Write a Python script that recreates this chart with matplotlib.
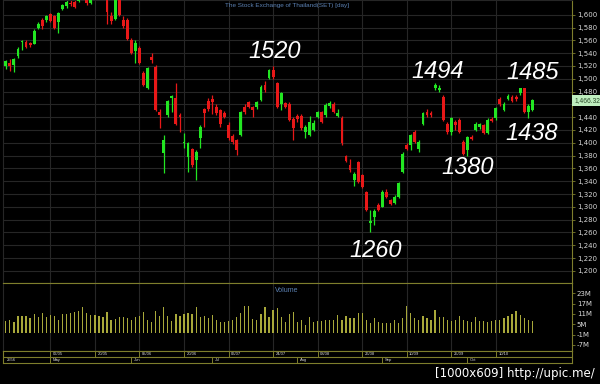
import matplotlib
matplotlib.use("Agg")
import matplotlib.pyplot as plt

# daily candles, SET index (values above the panel are clipped)
opens = [1520, 1525, 1521, 1535, 1557, 1558, 1556, 1555, 1580, 1592,
         1592, 1601, 1598, 1588, 1609, 1613, 1619, 1620, 1622, 1630,
         1628, 1619, 1630, 1645, 1640, 1630, 1598, 1594, 1628, 1592,
         1592, 1560, 1544, 1548, 1509, 1486, 1534, 1519, 1448, 1384,
         1443, 1470, 1470, 1443, 1400, 1378, 1390, 1373, 1407, 1452,
         1466, 1468, 1456, 1451, 1446, 1428, 1410, 1404, 1412, 1456,
         1464, 1456, 1456, 1467, 1490, 1501, 1513, 1493, 1461, 1462,
         1460, 1437, 1442, 1442, 1417, 1412, 1420, 1441, 1448, 1443,
         1457, 1460, 1442, 1438, 1379, 1365, 1342, 1370, 1350, 1323,
         1275, 1284, 1303, 1300, 1323, 1310, 1306, 1316, 1355, 1397,
         1396, 1417, 1390, 1430, 1448, 1446, 1485, 1483, 1472, 1430,
         1417, 1432, 1436, 1402, 1389, 1409, 1420, 1425, 1428, 1415,
         1437, 1438, 1469, 1451, 1469, 1472, 1472, 1477, 1485, 1448,
         1451]
closes = [1528, 1520, 1531, 1547, 1559, 1549, 1552, 1575, 1585, 1583,
          1598, 1590, 1579, 1602, 1615, 1620, 1616, 1612, 1632, 1636,
          1618, 1628, 1643, 1640, 1628, 1605, 1590, 1625, 1600, 1583,
          1562, 1540, 1556, 1525, 1490, 1517, 1529, 1451, 1444, 1404,
          1465, 1473, 1429, 1440, 1402, 1400, 1365, 1386, 1425, 1447,
          1452, 1464, 1446, 1430, 1441, 1407, 1402, 1389, 1448, 1448,
          1456, 1451, 1464, 1487, 1482, 1514, 1503, 1456, 1477, 1456,
          1436, 1423, 1437, 1423, 1425, 1433, 1431, 1448, 1433, 1459,
          1462, 1448, 1447, 1399, 1372, 1357, 1352, 1339, 1331, 1295,
          1278, 1293, 1295, 1323, 1316, 1305, 1316, 1337, 1383, 1390,
          1412, 1402, 1402, 1446, 1443, 1443, 1490, 1486, 1436, 1417,
          1438, 1428, 1417, 1383, 1409, 1406, 1430, 1429, 1415, 1436,
          1434, 1454, 1461, 1461, 1473, 1466, 1469, 1485, 1448, 1458,
          1466.32]
highs = [1530, 1531, 1532, 1549, 1561, 1561, 1558, 1577, 1589, 1595,
         1600, 1603, 1600, 1604, 1617, 1630, 1625, 1628, 1635, 1640,
         1634, 1632, 1648, 1650, 1643, 1632, 1604, 1628, 1630, 1598,
         1595, 1563, 1560, 1551, 1512, 1519, 1540, 1522, 1452, 1412,
         1467, 1474, 1493, 1446, 1415, 1402, 1392, 1389, 1428, 1454,
         1470, 1474, 1460, 1453, 1450, 1432, 1413, 1406, 1450, 1460,
         1466, 1458, 1466, 1490, 1496, 1516, 1520, 1495, 1479, 1464,
         1463, 1440, 1445, 1445, 1428, 1442, 1435, 1450, 1450, 1462,
         1465, 1463, 1452, 1442, 1381, 1374, 1355, 1372, 1352, 1325,
         1295, 1296, 1306, 1326, 1328, 1312, 1318, 1339, 1385, 1400,
         1414, 1420, 1404, 1448, 1452, 1449, 1494, 1491, 1475, 1433,
         1440, 1436, 1438, 1404, 1411, 1412, 1433, 1431, 1430, 1438,
         1440, 1456, 1472, 1463, 1476, 1474, 1474, 1486, 1486, 1460,
         1468]
lows = [1516, 1512, 1511, 1533, 1545, 1548, 1550, 1554, 1577, 1578,
        1588, 1589, 1577, 1571, 1607, 1611, 1614, 1610, 1620, 1627,
        1615, 1617, 1628, 1635, 1625, 1586, 1586, 1592, 1598, 1580,
        1560, 1538, 1525, 1523, 1488, 1484, 1524, 1449, 1423, 1353,
        1440, 1448, 1427, 1417, 1392, 1355, 1362, 1342, 1392, 1425,
        1450, 1445, 1444, 1425, 1438, 1405, 1398, 1381, 1410, 1445,
        1454, 1440, 1452, 1465, 1480, 1499, 1500, 1454, 1451, 1454,
        1434, 1404, 1432, 1420, 1408, 1410, 1418, 1439, 1431, 1440,
        1455, 1446, 1440, 1397, 1370, 1354, 1333, 1337, 1329, 1293,
        1260, 1272, 1294, 1299, 1314, 1303, 1304, 1314, 1353, 1388,
        1389, 1400, 1386, 1428, 1440, 1440, 1483, 1480, 1434, 1413,
        1412, 1420, 1415, 1381, 1380, 1404, 1418, 1422, 1413, 1413,
        1432, 1436, 1458, 1449, 1467, 1464, 1466, 1474, 1446, 1438,
        1449]
# volume in millions
volumes = [7.0, 7.7, 6.5, 9.8, 9.8, 9.8, 8.4, 10.9, 9.1, 11.6,
           9.0, 10.3, 9.8, 7.4, 10.9, 11.0, 11.4, 12.3, 13.0, 14.9,
           11.4, 10.5, 10.4, 9.8, 9.4, 12.0, 7.7, 8.3, 9.4, 9.0,
           8.4, 7.8, 9.0, 9.8, 12.3, 7.8, 6.5, 13.0, 9.8, 15.3,
           9.8, 7.0, 11.0, 9.8, 10.9, 11.4, 10.9, 15.3, 9.0, 9.8,
           8.4, 10.4, 7.4, 6.5, 6.5, 7.0, 7.8, 9.0, 11.4, 15.7,
           15.7, 8.3, 7.7, 11.0, 15.3, 9.0, 13.3, 14.3, 9.0, 6.5,
           11.0, 11.9, 6.5, 7.5, 4.8, 9.4, 6.5, 7.0, 7.0, 7.7,
           7.4, 7.7, 10.3, 7.4, 9.8, 8.4, 8.4, 11.4, 11.4, 7.7,
           5.9, 8.4, 6.5, 5.9, 5.9, 5.9, 7.4, 5.9, 8.4, 15.7,
           11.8, 8.4, 7.5, 9.8, 8.4, 7.8, 13.6, 9.4, 9.0, 7.4,
           7.0, 7.4, 9.8, 7.4, 7.0, 6.5, 9.4, 7.0, 7.0, 6.5,
           7.0, 7.8, 7.8, 8.4, 9.8, 10.9, 13.0, 10.4, 8.4, 7.4,
           7.0]

date_labels = ["02/05", "20/05", "05/06", "20/06", "06/07", "24/07",
               "08/08", "26/08", "10/09", "25/09", "10/10"]
date_idx = [11, 22, 33, 44, 55, 66, 77, 88, 99, 110, 121]
month_labels = ["May", "Jun", "Jul", "Aug", "Sep", "Oct"]
month_idx = [11, 31, 51, 72, 93, 114]
year_label = "2556"

price_ticks = list(range(1200, 1601, 20))
vol_ticks = [-7, -1, 5, 11, 17, 23]

# hand-written marks on the chart
notes = ["1520", "1494", "1485", "1438", "1380", "1260"]
note_x = [66.5, 106.6, 130.2, 129.9, 114.0, 91.2]
note_y = [1542, 1511, 1509, 1415, 1362, 1231]

UP = "#22e622"
DOWN = "#e81818"
OLIVE = "#7e7e2c"
GRID = "#262626"
TXT = "#d8d8d8"
BLUE = "#5c82b4"

n = len(closes)
idx = list(range(n))
xlo, xhi = -0.69, 139.8
last = closes[-1]

fig = plt.figure(figsize=(6, 3.84), dpi=100, facecolor="black")
ax = fig.add_axes([0.005, 0.263, 0.9483, 0.737], facecolor="black")
axv = fig.add_axes([0.005, 0.0859, 0.9483, 0.1771], facecolor="black")
axd = fig.add_axes([0.005, 0.0547, 0.9483, 0.03125], facecolor="black")

# price panel
for y in price_ticks:
    ax.axhline(y, color=GRID, lw=0.8, zorder=0)
for i in date_idx:
    ax.axvline(i, color=GRID, lw=0.8, zorder=0)

cols = [UP if c >= o else DOWN for o, c in zip(opens, closes)]
ax.vlines(idx, lows, highs, colors=cols, lw=0.9, zorder=2)
bottoms = [min(o, c) for o, c in zip(opens, closes)]
heights = [max(abs(c - o), 1.2) for o, c in zip(opens, closes)]
ax.bar(idx, heights, bottom=bottoms, width=0.7, color=cols, lw=0, zorder=3)

ax.set_xlim(xlo, xhi)
ax.set_ylim(1181, 1623)
ax.yaxis.tick_right()
ax.set_yticks(price_ticks)
# the last-price box sits over the tick label next to it
ax.set_yticklabels(["" if abs(v - last) < 10 else f"{v:,.0f}" for v in price_ticks])
ax.tick_params(axis="y", colors=OLIVE, labelcolor=TXT, labelsize=5, length=2, width=0.6, pad=1.5)
ax.set_xticks([])
for s in ["top", "left"]:
    ax.spines[s].set_color(GRID)
ax.spines["right"].set_color(OLIVE)
ax.spines["bottom"].set_color(OLIVE)

ax.text(0.499, 0.979, "The Stock Exchange of Thailand(SET) [day]", transform=ax.transAxes,
        ha="center", va="center", color=BLUE, fontsize=4.6, family="Liberation Sans")

for t, x, y in zip(notes, note_x, note_y):
    ax.text(x, y, t, ha="center", va="center", color="white", fontsize=17,
            style="italic", family="Liberation Sans")

ax.annotate(f"{last:,.2f}", xy=(1.004, last), xycoords=("axes fraction", "data"),
            ha="left", va="center", fontsize=4.8, color="#2a4a2a", family="Liberation Sans",
            bbox=dict(boxstyle="square,pad=0.3", fc="#bfeebf", ec="none"), annotation_clip=False)

# volume panel
for i in date_idx:
    axv.axvline(i, color=GRID, lw=0.8, zorder=0)
axv.bar(idx, volumes, width=0.3, color="#a8a83a", lw=0, zorder=2)
axv.set_xlim(xlo, xhi)
axv.set_ylim(-10.5, 29)
axv.yaxis.tick_right()
axv.set_yticks(vol_ticks)
axv.set_yticklabels([f"{v}M" for v in vol_ticks])
axv.tick_params(axis="y", colors=OLIVE, labelcolor=TXT, labelsize=5, length=2, width=0.6, pad=1.5)
axv.set_xticks([])
axv.spines["left"].set_color(GRID)
for s in ["top", "right", "bottom"]:
    axv.spines[s].set_color(OLIVE)
axv.text(0.499, 0.94, "Volume", transform=axv.transAxes, ha="center", va="top",
         color=BLUE, fontsize=5, family="Liberation Sans")

# date strip
axd.set_xlim(xlo, xhi)
axd.set_ylim(0, 2)
axd.axhline(1, color=OLIVE, lw=0.8)
for s in axd.spines.values():
    s.set_color(OLIVE)
axd.set_xticks([])
axd.set_yticks([])
for i, lab in zip(date_idx, date_labels):
    axd.plot([i, i], [1, 2], color=OLIVE, lw=0.7)
    axd.text(i + 0.6, 1.5, lab, ha="left", va="center", color=TXT, fontsize=3, family="Liberation Sans")
for i, lab in zip(month_idx, month_labels):
    axd.plot([i, i], [0, 1], color=OLIVE, lw=0.7)
    axd.text(i + 0.6, 0.5, lab, ha="left", va="center", color=TXT, fontsize=3, family="Liberation Sans")
axd.text(0.3, 0.5, year_label, ha="left", va="center", color=TXT, fontsize=3, family="Liberation Sans")

fig.text(0.992, 0.027, "[1000x609] http://upic.me/", ha="right", va="center",
         color="white", fontsize=8.5, family="DejaVu Sans")

fig.savefig("out.png", dpi=100, facecolor="black")
